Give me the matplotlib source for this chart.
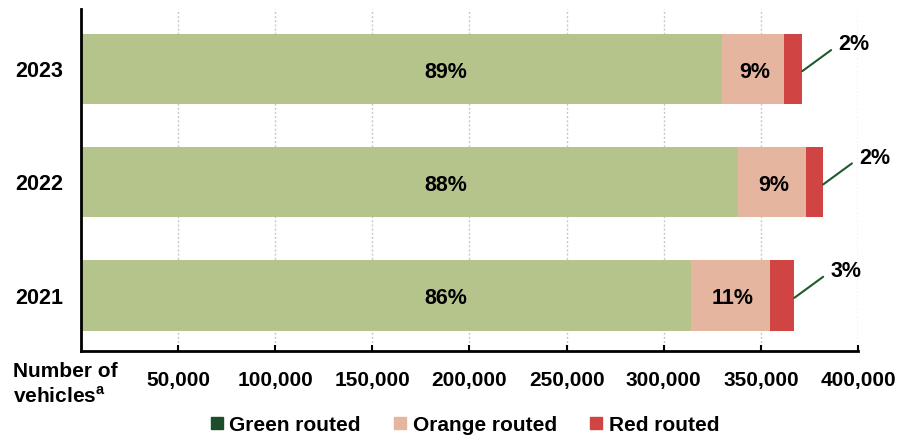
import matplotlib
matplotlib.use("Agg")
import matplotlib.pyplot as plt
from matplotlib.lines import Line2D

plt.rcParams["font.family"] = ["Liberation Sans", "DejaVu Sans"]
plt.rcParams["font.weight"] = "bold"
plt.rcParams["mathtext.fontset"] = "custom"
plt.rcParams["mathtext.rm"] = "Liberation Sans"

# data (vehicle counts)
years = ["2021", "2022", "2023"]
green = [314000, 338000, 330000]
orange = [40700, 35000, 32000]
red = [12500, 9000, 9300]
green_pct = ["86%", "88%", "89%"]
orange_pct = ["11%", "9%", "9%"]
red_pct = ["3%", "2%", "2%"]
xticks = [50000, 100000, 150000, 200000, 250000, 300000, 350000, 400000]

c_green = "#b5c48b"
c_orange = "#e5b5a0"
c_red = "#d04444"
c_green_leg = "#1e4d2b"
c_leader = "#1f5a2e"

fig = plt.figure(figsize=(9.08, 4.4), dpi=100)
ax = fig.add_axes([0.089, 0.202, 0.856, 0.778])

pos = list(range(len(years)))
h = 0.62
ax.barh(pos, green, height=h, color=c_green, zorder=2)
left2 = green
ax.barh(pos, orange, left=left2, height=h, color=c_orange, zorder=2)
left3 = [g + o for g, o in zip(green, orange)]
ax.barh(pos, red, left=left3, height=h, color=c_red, zorder=2)

for i in pos:
    ax.text(188000, i - 0.03, green_pct[i], ha="center", va="center",
            fontsize=15.5, fontweight="bold", zorder=3)
    ax.text(green[i] + orange[i] / 2 + 1000, i - 0.03, orange_pct[i],
            ha="center", va="center", fontsize=15.5, fontweight="bold", zorder=3)
    end = green[i] + orange[i] + red[i]
    ax.annotate(red_pct[i], xy=(end, i - 0.02), xytext=(26, 19),
                textcoords="offset points", ha="left", va="center",
                fontsize=15.5, fontweight="bold",
                arrowprops=dict(arrowstyle="-", color=c_leader, lw=1.5,
                                relpos=(0, 0.5), shrinkA=4, shrinkB=0))

ax.set_xlim(0, 400000)
ax.set_ylim(-0.49, 2.53)
ax.set_xticks(xticks)
ax.set_xticklabels([f"{v:,}" for v in xticks])
ax.set_yticks(pos)
ax.set_yticklabels(years)

ax.tick_params(axis="x", direction="in", length=4, width=1.5, pad=14,
               labelsize=15)
ax.tick_params(axis="y", length=0, pad=13, labelsize=15.5)
for lab in ax.get_xticklabels() + ax.get_yticklabels():
    lab.set_fontweight("bold")

ax.grid(axis="x", color="#c8c8c8", linestyle=(0, (1.5, 1.5)), linewidth=1, zorder=0)
ax.set_axisbelow(True)
for s in ["top", "right"]:
    ax.spines[s].set_visible(False)
for s in ["left", "bottom"]:
    ax.spines[s].set_linewidth(2)
    ax.spines[s].set_color("black")

fig.text(0.014, 0.127, "Number of\nvehicles$^{\\mathrm{a}}$", ha="left",
         va="center", fontsize=15, fontweight="bold", linespacing=1.3)

handles = [
    Line2D([], [], marker="s", linestyle="none", markersize=8, color=c_green_leg),
    Line2D([], [], marker="s", linestyle="none", markersize=8, color=c_orange),
    Line2D([], [], marker="s", linestyle="none", markersize=8, color=c_red),
]
fig.legend(handles, ["Green routed", "Orange routed", "Red routed"],
           loc="center", bbox_to_anchor=(0.512, 0.034), ncol=3, frameon=False,
           handlelength=0.6, handletextpad=0.3,
           columnspacing=1.6, prop={"weight": "bold", "size": 15})

fig.savefig("out.png", dpi=100)
